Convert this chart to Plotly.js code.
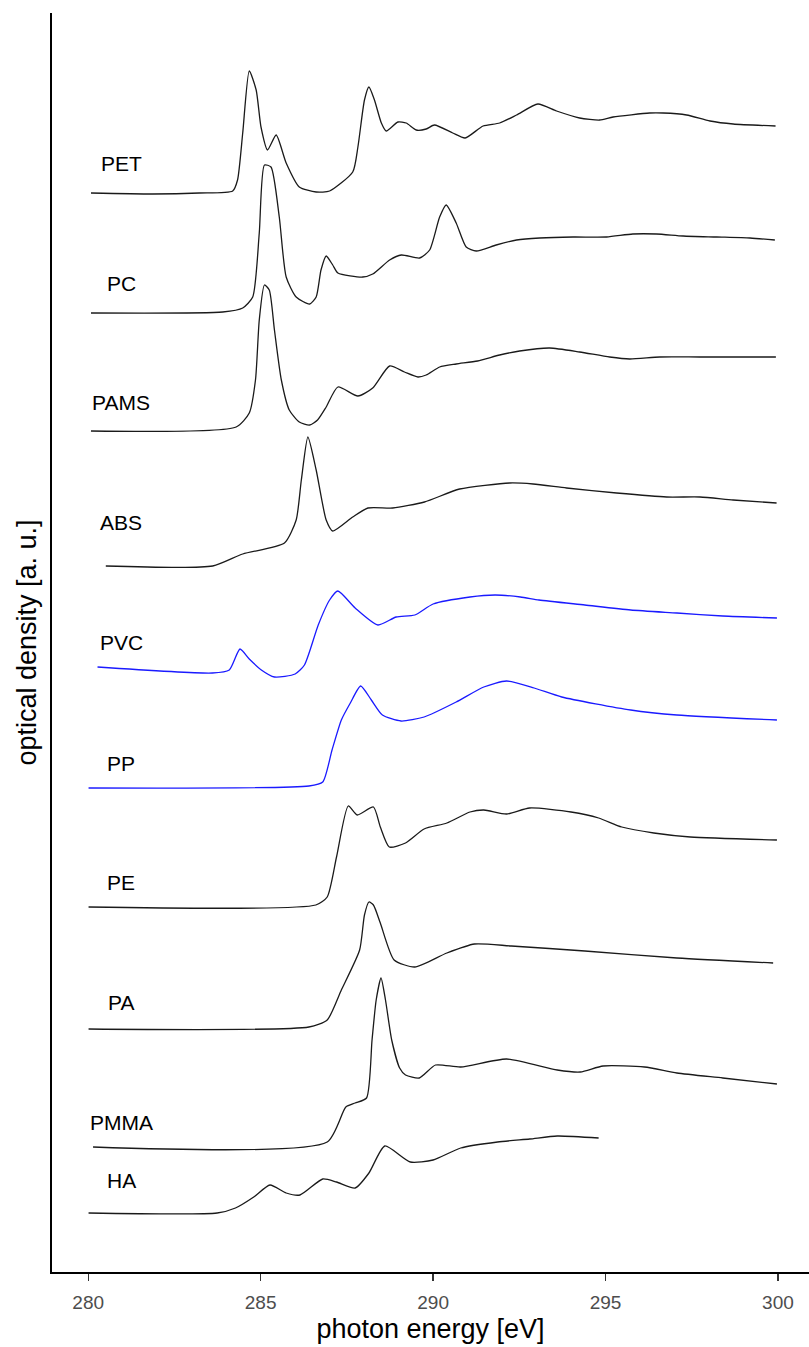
<!DOCTYPE html>
<html>
<head>
<meta charset="utf-8">
<script src="https://cdn.plot.ly/plotly-3.0.1.min.js"></script>
<style>
  html, body { margin: 0; padding: 0; background: #fff; }
  #chart { width: 809px; height: 1347px; }
</style>
</head>
<body>
<div id="chart"></div>
<script>
// ---- data: photon energy [eV] and optical density [a. u., stacked] ----
const samples = ['PET', 'PC', 'PAMS', 'ABS', 'PVC', 'PP', 'PE', 'PA', 'PMMA', 'HA'];

const PET_eV = [280.08,281.87,283.22,284.19,284.33,284.48,284.67,284.87,285.01,285.20,285.45,285.74,286.12,286.61,287.00,287.67,287.82,288.01,288.14,288.30,288.50,288.64,288.98,289.22,289.51,289.80,290.04,290.57,290.93,291.45,291.93,292.42,293.04,293.58,294.25,294.83,295.22,296.28,296.67,297.35,298.03,298.70,299.93];
const PET_od = [10.79,10.78,10.79,10.81,10.92,11.39,12.01,11.82,11.45,11.22,11.37,11.09,10.85,10.80,10.81,11.00,11.25,11.72,11.85,11.72,11.49,11.41,11.50,11.49,11.42,11.43,11.47,11.39,11.34,11.46,11.49,11.57,11.68,11.61,11.54,11.52,11.55,11.59,11.59,11.57,11.51,11.48,11.46];

const PC_eV = [280.08,283.90,284.48,284.77,284.96,285.11,285.30,285.54,285.74,286.03,286.42,286.61,286.75,286.90,287.09,287.24,287.96,288.25,288.74,289.08,289.61,289.90,290.19,290.38,290.67,290.96,291.25,291.83,292.42,293.09,294.06,295.03,295.79,296.48,297.25,298.22,299.19,299.91];
const PC_od = [9.59,9.60,9.64,9.75,10.39,11.07,11.05,10.55,9.95,9.75,9.68,9.75,10.02,10.16,10.07,9.99,9.95,9.98,10.12,10.17,10.14,10.22,10.55,10.67,10.49,10.25,10.21,10.27,10.32,10.34,10.35,10.35,10.38,10.38,10.36,10.35,10.34,10.32];

const PAMS_eV = [280.08,284.29,284.67,284.85,284.96,285.11,285.25,285.40,285.60,285.83,286.12,286.42,286.65,286.90,287.24,287.82,288.25,288.74,289.17,289.56,289.80,290.19,290.67,291.29,291.93,292.51,293.38,294.25,295.12,295.70,296.57,297.74,299.94];
const PAMS_od = [8.41,8.45,8.59,8.92,9.52,9.87,9.82,9.42,8.92,8.62,8.50,8.47,8.52,8.65,8.85,8.76,8.84,9.06,9.00,8.95,8.97,9.05,9.08,9.11,9.17,9.21,9.24,9.20,9.15,9.13,9.15,9.15,9.15];

const ABS_eV = [280.51,283.61,284.48,285.69,286.03,286.18,286.37,286.61,286.90,287.09,287.67,288.11,288.83,289.75,290.77,292.22,292.90,293.87,295.32,296.77,297.74,298.70,299.96];
const ABS_od = [7.06,7.06,7.18,7.29,7.52,7.92,8.35,8.02,7.52,7.41,7.55,7.64,7.64,7.70,7.83,7.89,7.88,7.84,7.79,7.75,7.75,7.72,7.69];

const PVC_eV = [280.27,283.60,284.09,284.40,284.67,285.02,285.40,286.00,286.27,286.67,287.00,287.24,287.74,288.40,288.93,289.47,290.00,291.07,291.80,292.53,293.07,294.40,295.73,297.07,298.40,299.97];
const PVC_od = [6.05,5.99,6.02,6.23,6.13,6.02,5.95,5.98,6.07,6.47,6.72,6.81,6.64,6.47,6.55,6.57,6.68,6.75,6.77,6.75,6.72,6.67,6.62,6.59,6.56,6.54];

const PP_eV = [280.01,286.40,286.80,287.07,287.34,287.60,287.90,288.21,288.53,289.07,289.74,290.67,291.47,292.13,292.93,293.73,295.73,297.07,299.97];
const PP_od = [4.84,4.86,4.90,5.22,5.52,5.69,5.86,5.72,5.57,5.51,5.55,5.70,5.85,5.91,5.84,5.75,5.62,5.57,5.52];

const PE_eV = [280.01,286.60,286.93,287.20,287.54,287.80,288.27,288.47,288.73,289.20,289.74,290.40,291.07,291.47,292.13,292.80,294.00,294.80,295.47,296.40,297.46,299.97];
const PE_od = [3.65,3.67,3.75,4.15,4.66,4.57,4.65,4.45,4.25,4.29,4.43,4.49,4.60,4.62,4.58,4.64,4.60,4.54,4.45,4.39,4.35,4.32];

const PA_eV = [280.01,286.40,286.93,287.34,287.87,288.01,288.14,288.27,288.47,288.87,289.47,290.40,291.20,292.27,294.40,297.07,299.86];
const PA_od = [2.43,2.45,2.52,2.82,3.22,3.57,3.70,3.67,3.49,3.12,3.05,3.19,3.28,3.26,3.21,3.14,3.09];

const PMMA_eV = [280.14,286.93,287.47,287.74,288.07,288.23,288.35,288.49,288.62,288.80,289.03,289.20,289.60,290.07,290.80,292.13,293.60,294.27,294.93,296.13,297.07,298.40,299.97];
const PMMA_od = [1.25,1.30,1.65,1.69,1.74,2.32,2.72,2.94,2.72,2.32,2.04,1.97,1.94,2.07,2.05,2.13,2.02,2.00,2.06,2.05,1.99,1.94,1.88];

const HA_eV = [280.01,283.74,284.27,284.80,285.27,285.74,286.14,286.80,287.20,287.74,288.14,288.60,289.34,290.00,290.80,291.87,292.80,293.60,294.80];
const HA_od = [0.59,0.59,0.64,0.75,0.87,0.79,0.77,0.93,0.90,0.84,0.99,1.26,1.10,1.12,1.24,1.30,1.33,1.36,1.34];

const xTicks = [280, 285, 290, 295, 300];

// ---- styling / layout (not data) ----
const seriesX = {PET: PET_eV, PC: PC_eV, PAMS: PAMS_eV, ABS: ABS_eV, PVC: PVC_eV, PP: PP_eV, PE: PE_eV, PA: PA_eV, PMMA: PMMA_eV, HA: HA_eV};
const seriesY = {PET: PET_od, PC: PC_od, PAMS: PAMS_od, ABS: ABS_od, PVC: PVC_od, PP: PP_od, PE: PE_od, PA: PA_od, PMMA: PMMA_od, HA: HA_od};
const blue = new Set(['PVC', 'PP']);
const labelLift = {PET: 0.30, PC: 0.30, PAMS: 0.29, ABS: 0.44, PVC: 0.25, PP: 0.25, PE: 0.25, PA: 0.27, PMMA: 0.25, HA: 0.33};

const traces = samples.map(s => ({
  type: 'scatter', mode: 'lines', name: s,
  x: seriesX[s], y: seriesY[s],
  line: {color: blue.has(s) ? '#1a1aff' : '#1a1a1a', width: 1.3, shape: 'spline', smoothing: 0.6},
  hoverinfo: 'x+y+name'
}));

const annotations = samples.map(s => ({
  x: 280.96, y: seriesY[s][0] + labelLift[s], xref: 'x', yref: 'y',
  text: s, showarrow: false, xanchor: 'center', yanchor: 'middle',
  font: {family: 'Liberation Sans, Arial, sans-serif', size: 21, color: '#000'}
}));

const layout = {
  width: 809, height: 1347,
  margin: {l: 52, r: 0, t: 13, b: 75, pad: 0},
  paper_bgcolor: '#fff', plot_bgcolor: '#fff',
  showlegend: false,
  font: {family: 'Liberation Sans, Arial, sans-serif', color: '#000'},
  xaxis: {
    range: [278.95, 300.9], tickvals: xTicks, ticktext: xTicks.map(String),
    showgrid: false, zeroline: false,
    showline: true, linecolor: '#000', linewidth: 1.6,
    ticks: 'outside', ticklen: 7, tickwidth: 1.2, tickcolor: '#333',
    ticklabelstandoff: 6,
    tickfont: {size: 19, color: '#4d4d4d'},
    title: {text: 'photon energy [eV]', font: {size: 27, color: '#000'}, standoff: 6}
  },
  yaxis: {
    range: [0, 12.59],
    showgrid: false, zeroline: false,
    showline: true, linecolor: '#000', linewidth: 1.6,
    showticklabels: false, ticks: '',
    title: {text: 'optical density [a. u.]', font: {size: 27, color: '#000'}, standoff: 6}
  },
  annotations: annotations
};

Plotly.newPlot('chart', traces, layout, {displayModeBar: false, staticPlot: true});
</script>
</body>
</html>
